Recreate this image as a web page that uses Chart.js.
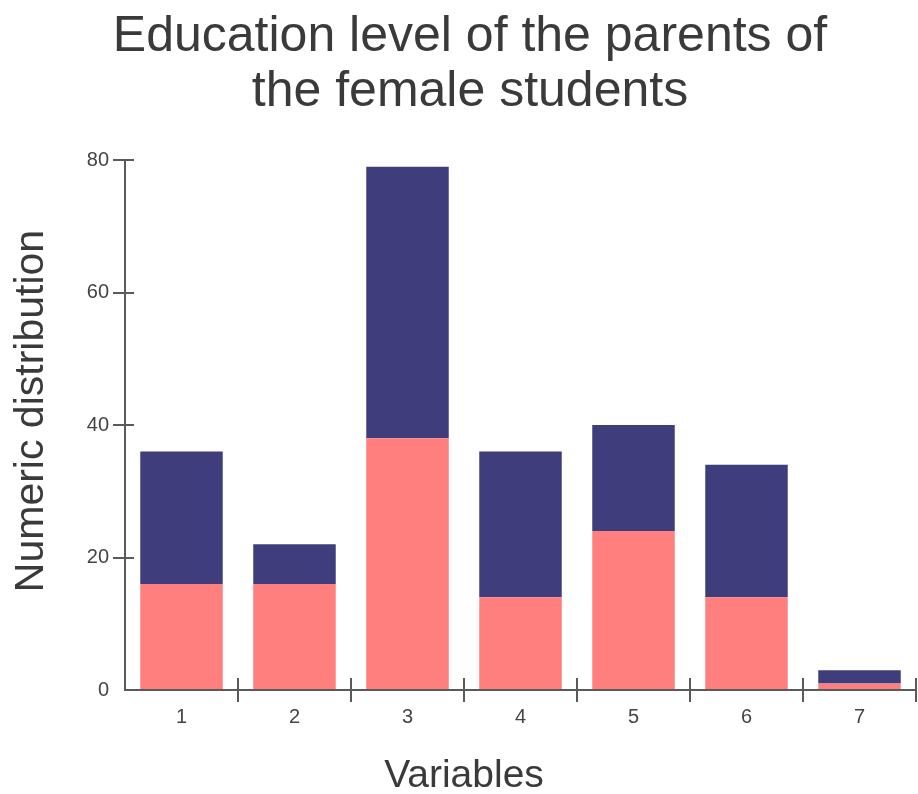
<!DOCTYPE html>
<html>
<head>
<meta charset="utf-8">
<script src="https://cdn.jsdelivr.net/npm/chart.js@4.4.1/dist/chart.umd.min.js"></script>
<style>
  html, body { margin: 0; padding: 0; background: #fff; }
  #wrap { width: 918px; height: 794px; }
</style>
</head>
<body>
<div id="wrap"><canvas id="eduChart" width="918" height="794"></canvas></div>
<script>
// --- data ---
const categories = ['1', '2', '3', '4', '5', '6', '7'];
const pinkValues = [16, 16, 38, 14, 24, 14, 1];
const navyValues = [20, 6, 41, 22, 16, 20, 2];
const yTicks = [0, 20, 40, 60, 80];

const titleLines = ['Education level of the parents of', 'the female students'];
const xTitle = 'Variables';
const yTitle = 'Numeric distribution';

const axisColor = '#5a5a5a';
const textColor = '#3a3a3a';
const fontFamily = '"Liberation Sans", Arial, sans-serif';

// ticks that cross the axis line (the inner part) + axis titles
const axisExtras = {
    id: 'axisExtras',
    afterDraw(chart) {
        const c = chart.ctx;
        const x = chart.scales.x;
        const y = chart.scales.y;
        const area = chart.chartArea;
        c.save();
        c.strokeStyle = axisColor;
        c.lineWidth = 2;
        c.beginPath();
        yTicks.forEach(v => {
            if (v === 0) return;
            const py = Math.round(y.getPixelForValue(v));
            c.moveTo(area.left, py);
            c.lineTo(area.left + 9, py);
        });
        for (let i = 1; i <= categories.length; i++) {
            const px = i < categories.length
                ? (x.getPixelForTick(i - 1) + x.getPixelForTick(i)) / 2
                : area.right;
            c.moveTo(px, area.bottom);
            c.lineTo(px, area.bottom - 12);
        }
        c.stroke();

        c.fillStyle = textColor;
        c.textAlign = 'center';
        c.textBaseline = 'alphabetic';
        c.font = '39px ' + fontFamily;
        c.fillText(xTitle, 464, 787);
        c.font = '41px ' + fontFamily;
        c.translate(43, 411);
        c.rotate(-Math.PI / 2);
        c.fillText(yTitle, 0, 0);
        c.restore();
    }
};

const ctx = document.getElementById('eduChart').getContext('2d');
const eduChart = new Chart(ctx, {
    type: 'bar',
    data: {
        labels: categories,
        datasets: [
            { label: 'A', data: pinkValues, backgroundColor: '#ff7f7f', borderWidth: 0 },
            { label: 'B', data: navyValues, backgroundColor: '#3f3d7b', borderWidth: 0 }
        ]
    },
    options: {
        responsive: false,
        animation: false,
        layout: { padding: { left: 24, right: 2, top: 0, bottom: 0 } },
        datasets: { bar: { barPercentage: 0.73, categoryPercentage: 1.0 } },
        plugins: {
            legend: { display: false },
            tooltip: { enabled: false },
            title: {
                display: true,
                text: titleLines,
                color: textColor,
                font: { family: fontFamily, size: 50, weight: 'normal', lineHeight: 1.1 },
                padding: { top: 10, bottom: 40 }
            }
        },
        scales: {
            x: {
                stacked: true,
                grid: {
                    display: true,
                    drawOnChartArea: false,
                    drawTicks: true,
                    tickLength: 12,
                    lineWidth: 2,
                    color: c => c.index === 0 ? 'rgba(0,0,0,0)' : axisColor
                },
                border: { display: true, color: axisColor, width: 2 },
                ticks: { color: '#444', font: { family: fontFamily, size: 20 }, padding: 3 },
                afterFit(scale) { scale.height = 104; }
            },
            y: {
                stacked: true,
                min: 0,
                max: 80,
                afterBuildTicks(scale) { scale.ticks = yTicks.map(v => ({ value: v })); },
                grid: {
                    display: true,
                    drawOnChartArea: false,
                    drawTicks: true,
                    tickLength: 12,
                    lineWidth: 2,
                    color: c => c.tick && c.tick.value === 0 ? 'rgba(0,0,0,0)' : axisColor
                },
                border: { display: true, color: axisColor, width: 2 },
                ticks: { color: '#444', font: { family: fontFamily, size: 20 }, padding: 4 },
                afterFit(scale) { scale.width = 101; }
            }
        }
    },
    plugins: [axisExtras]
});
</script>
</body>
</html>
